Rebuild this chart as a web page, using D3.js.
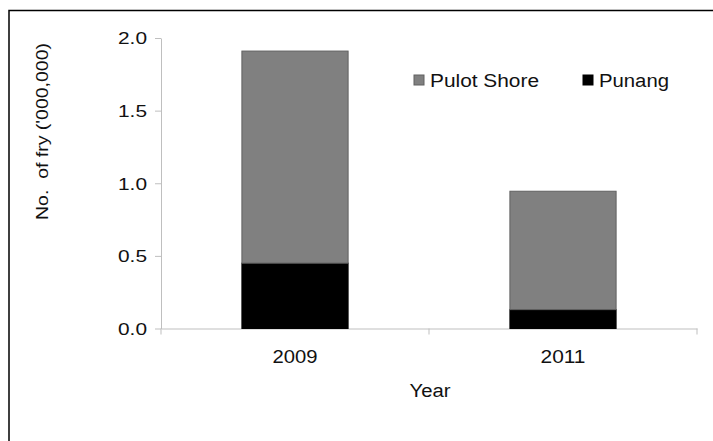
<!DOCTYPE html>
<html>
<head>
<meta charset="utf-8">
<script src="https://cdn.jsdelivr.net/npm/d3@7"></script>
<style>
  body { margin: 0; background: #fff; }
  text { font-family: Arial, "Liberation Sans", sans-serif; fill: #111; }
</style>
</head>
<body>
<div id="plot"></div>
<script>
// values, in millions of fry
const years = ['2009', '2011'];
const punang = [0.45, 0.13];
const pulotShore = [1.46, 0.815];
const seriesNames = ['Punang', 'Pulot Shore'];
const legendNames = ['Pulot Shore', 'Punang'];
const yTicks = [0, 0.5, 1, 1.5, 2];

const colors = {'Punang': '#000000', 'Pulot Shore': '#808080'};
const strokes = {'Punang': '#000000', 'Pulot Shore': '#606060'};

let width = 713, height = 441;

let svg = d3.select('#plot').append('svg')
  .attr('width', width).attr('height', height)
  .style('display', 'block').style('background', '#fff');

// outer frame (cropped on the right and bottom in the original)
svg.append('rect')
  .attr('x', 9).attr('y', 10.5)
  .attr('width', 740).attr('height', 460)
  .attr('fill', 'none').attr('stroke', '#000').attr('stroke-width', 1.5);

let rows = years.map((y, i) => ({year: y, 'Punang': punang[i], 'Pulot Shore': pulotShore[i]}));
let stacked = d3.stack().keys(seriesNames)(rows);

let x = d3.scaleBand().domain(years).range([161, 697]).paddingInner(0.6).paddingOuter(0.3);
let y = d3.scaleLinear().domain([0, 2]).range([328.5, 38]);

const axisColor = '#bfbfbf';

// y axis
let yAxis = svg.append('g').attr('transform', 'translate(161,0)')
  .call(d3.axisLeft(y).tickValues(yTicks).tickFormat(d3.format('.1f')).tickSize(6).tickPadding(8).tickSizeOuter(0));
yAxis.selectAll('path, line').attr('stroke', axisColor);
yAxis.selectAll('text')
  .style('font-size', '16.5px')
  .attr('textLength', 29).attr('lengthAdjust', 'spacingAndGlyphs')
  .attr('dy', '0.36em');

// x axis: labels centred under the bars, ticks on the category borders
let xAxis = svg.append('g').attr('transform', 'translate(0,328.5)')
  .call(d3.axisBottom(x).tickSize(0).tickPadding(22).tickSizeOuter(0));
xAxis.select('path').attr('stroke', axisColor);
xAxis.selectAll('text')
  .style('font-size', '17.5px')
  .attr('textLength', 45).attr('lengthAdjust', 'spacingAndGlyphs');

let borders = [x.range()[0]].concat(years.map(d => x(d) + x.bandwidth() + x.step() * x.paddingInner() / 2));
xAxis.selectAll('.border')
  .data(borders)
  .enter()
  .append('line')
  .attr('class', 'border')
  .attr('x1', d => d).attr('x2', d => d)
  .attr('y1', 0).attr('y2', 6)
  .attr('stroke', axisColor);

// stacked bars
svg.append('g').selectAll('g')
  .data(stacked)
  .enter()
  .append('g')
  .attr('fill', d => colors[d.key])
  .attr('stroke', d => strokes[d.key])
  .selectAll('rect')
  .data(d => d)
  .enter()
  .append('rect')
  .attr('x', d => x(d.data.year) + 0.5)
  .attr('y', d => y(d[1]))
  .attr('width', x.bandwidth() - 1)
  .attr('height', d => y(d[0]) - y(d[1]));

// legend
let legendX = {'Pulot Shore': 414, 'Punang': 583};
let legendLen = {'Pulot Shore': 109, 'Punang': 70};
let legend = svg.append('g').selectAll('g')
  .data(legendNames)
  .enter()
  .append('g')
  .attr('transform', d => 'translate(' + legendX[d] + ',75)');
legend.append('rect')
  .attr('width', 10).attr('height', 10)
  .attr('fill', d => colors[d])
  .attr('stroke', d => strokes[d]);
legend.append('text')
  .attr('x', 16).attr('y', 11.5)
  .style('font-size', '18px')
  .attr('textLength', d => legendLen[d]).attr('lengthAdjust', 'spacingAndGlyphs')
  .text(d => d);

// axis titles
svg.append('text')
  .attr('transform', 'translate(48,131.5) rotate(-90)')
  .attr('text-anchor', 'middle')
  .style('font-size', '17px')
  .style('white-space', 'pre')
  .attr('textLength', 177).attr('lengthAdjust', 'spacingAndGlyphs')
  .text("No.  of fry ('000,000)");

svg.append('text')
  .attr('x', 430).attr('y', 397)
  .attr('text-anchor', 'middle')
  .style('font-size', '18px')
  .attr('textLength', 41).attr('lengthAdjust', 'spacingAndGlyphs')
  .text('Year');
</script>
</body>
</html>
